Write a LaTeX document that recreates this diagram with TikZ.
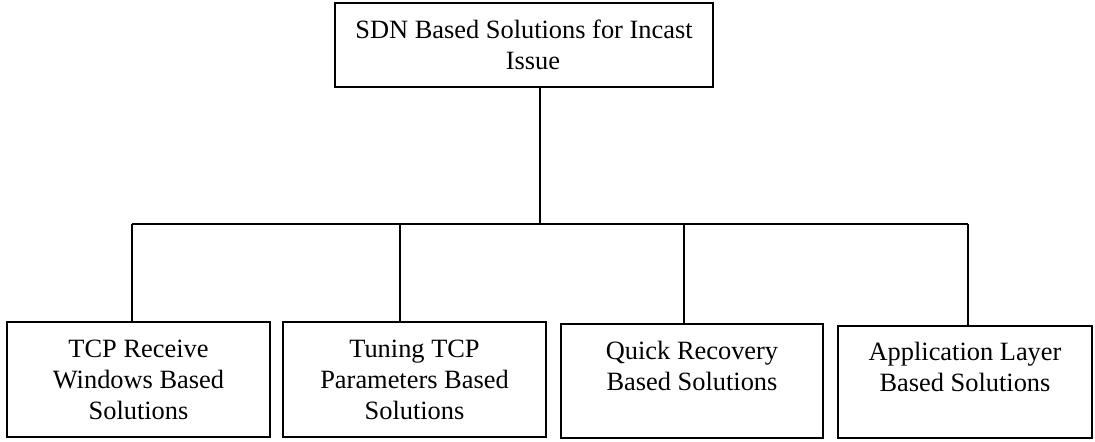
\documentclass[tikz,border=0pt]{standalone}
\usepackage{fontspec}
\setmainfont{Liberation Serif}
\tikzset{
  box/.style={draw=black, line width=1pt, rectangle, inner sep=0pt, align=center,
    font=\fontsize{13.2pt}{15.5pt}\selectfont},
  link/.style={draw=black, line width=1pt}
}
\begin{document}
\begin{tikzpicture}[x=0.5pt, y=-0.5pt]
\useasboundingbox (0,0) rectangle (1095,441);
\node[box, minimum width=189pt, minimum height=42pt] (top) at (524,45)
  {SDN Based Solutions for Incast\\\hspace*{9pt}Issue};
\node[box, minimum width=131.5pt, minimum height=57.5pt] (b1) at (138.5,379.5)
  {TCP Receive\\Windows Based\\Solutions};
\node[box, minimum width=131.5pt, minimum height=57.5pt] (b2) at (414.5,379.5)
  {Tuning TCP\\Parameters Based\\Solutions};
\node[box, minimum width=131pt, minimum height=57pt] (b3) at (692,381)
  {Quick Recovery\\Based Solutions\\\mbox{}};
\node[box, minimum width=127pt, minimum height=56pt] (b4) at (965,382)
  {Application Layer\\Based Solutions\\\mbox{}};
\coordinate (hub) at (540,224);
\coordinate (j1) at (132,224);
\coordinate (j2) at (400,224);
\coordinate (j3) at (684,224);
\coordinate (j4) at (968,224);
\draw[link] (hub |- top.south) -- (hub);
\draw[link] (j1) -- (j4);
\draw[link] (j1) -- (j1 |- b1.north);
\draw[link] (j2) -- (j2 |- b2.north);
\draw[link] (j3) -- (j3 |- b3.north);
\draw[link] (j4) -- (j4 |- b4.north);
\end{tikzpicture}
\end{document}
